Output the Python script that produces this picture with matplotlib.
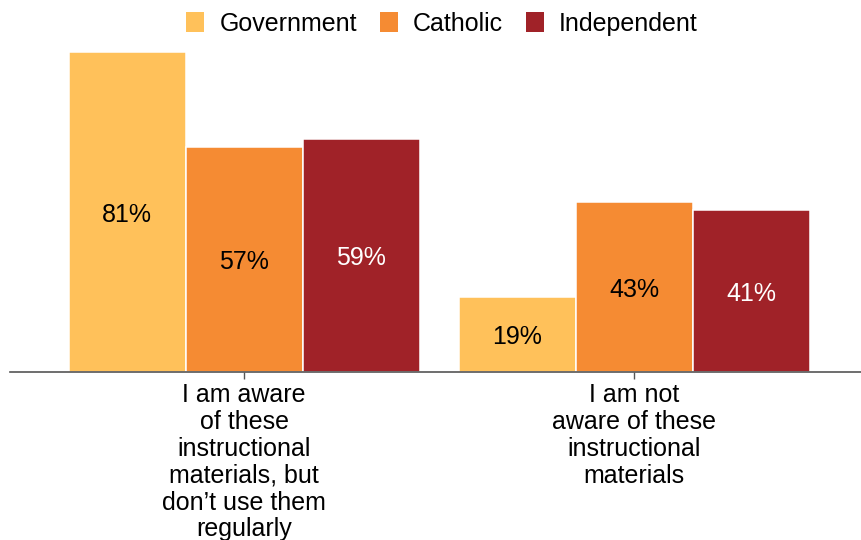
import numpy as np
import matplotlib
matplotlib.use("Agg")
import matplotlib.pyplot as plt
from matplotlib.patches import Patch

plt.rcParams['font.family'] = ['Liberation Sans', 'DejaVu Sans']

# Survey responses by school sector (percent)
categories = ["I am aware\nof these\ninstructional\nmaterials, but\ndon\u2019t use them\nregularly",
              "I am not\naware of these\ninstructional\nmaterials"]
sectors = ["Government", "Catholic", "Independent"]
government = [81, 19]
catholic = [57, 43]
independent = [59, 41]

colors = ["#FFC15A", "#F58B33", "#A02228"]
text_colors = ["black", "black", "white"]

fig = plt.figure(figsize=(8.61, 5.40), dpi=100)
ax = fig.add_axes([10 / 861, 168 / 540, 851 / 861, 320 / 540])

x = np.arange(len(categories))
width = 0.3
series = [government, catholic, independent]

for i, (vals, col, tcol) in enumerate(zip(series, colors, text_colors)):
    pos = x + (i - 1) * width
    bars = ax.bar(pos, vals, width, color=col, edgecolor="white", linewidth=1.1)
    for b, v in zip(bars, vals):
        ax.text(b.get_x() + b.get_width() / 2, v / 2, f"{v}%",
                ha="center", va="center_baseline", fontsize=18, color=tcol)

ax.set_xlim(-0.6, 1.582)
ax.set_ylim(0, 81)
ax.set_xticks(x)
ax.set_xticklabels(categories, fontsize=18, linespacing=1.15)
ax.tick_params(axis="x", length=5, width=1, color="#555555", pad=3)
ax.set_yticks([])
for side in ["top", "left", "right"]:
    ax.spines[side].set_visible(False)
ax.spines["bottom"].set_color("#555555")
ax.spines["bottom"].set_linewidth(1.2)

handles = [Patch(facecolor=c, edgecolor="none") for c in colors]
fig.legend(handles, sectors, loc="center", bbox_to_anchor=(442 / 861, 1 - 24 / 540),
           ncol=3, frameon=False, fontsize=18, handlelength=0.72, handleheight=0.84,
           handletextpad=0.6, columnspacing=0.92, borderpad=0)

fig.savefig("out.png", dpi=100)
